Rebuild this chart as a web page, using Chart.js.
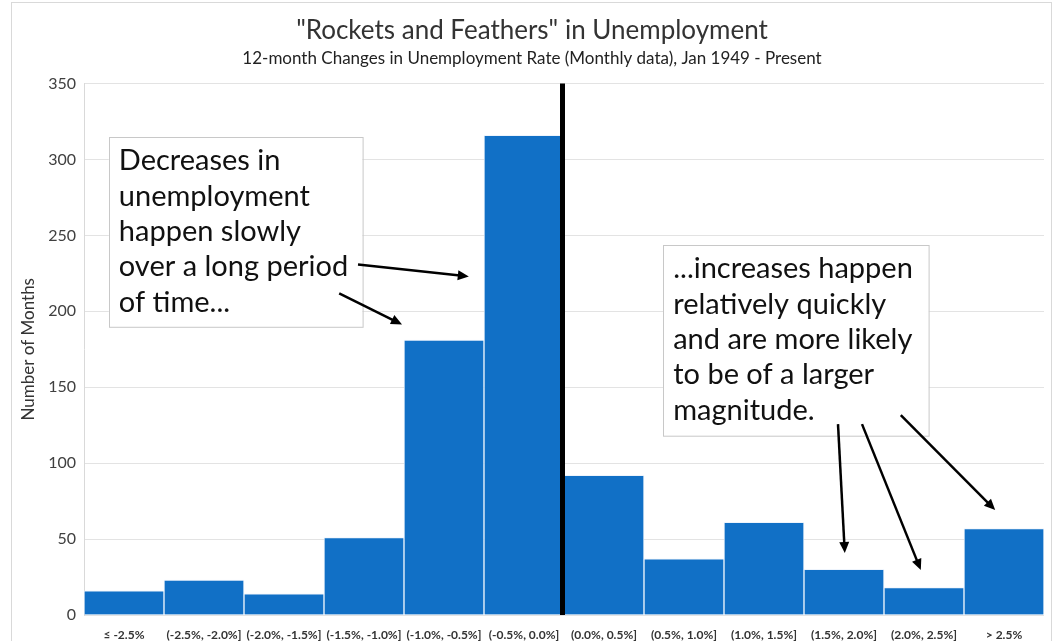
<!DOCTYPE html>
<html>
<head>
<meta charset="utf-8">
<script src="https://cdn.jsdelivr.net/npm/chart.js@4"></script>
<style>
  html, body { margin: 0; padding: 0; background: #fff; }
  #wrap { width: 1057px; height: 641px; position: relative; }
</style>
</head>
<body>
<div id="wrap"><canvas id="chart"></canvas></div>
<script>
// histogram bins of 12-month changes in the unemployment rate
const binLabels = ['≤ -2.5%', '(-2.5%, -2.0%]', '(-2.0%, -1.5%]', '(-1.5%, -1.0%]', '(-1.0%, -0.5%]',
  '(-0.5%, 0.0%]', '(0.0%, 0.5%]', '(0.5%, 1.0%]', '(1.0%, 1.5%]', '(1.5%, 2.0%]', '(2.0%, 2.5%]', '> 2.5%'];
const monthCounts = [16, 23, 14, 51, 181, 316, 92, 37, 61, 30, 18, 57];
const yTicks = [0, 50, 100, 150, 200, 250, 300, 350];

// annotation boxes and arrows, in data units (category index, count)
const noteBoxes = [
  { x0: -0.19, x1: 2.98, y0: 314.5, y1: 189.5,
    lines: ['Decreases in', 'unemployment', 'happen slowly', 'over a long period', 'of time...'] },
  { x0: 6.74, x1: 10.06, y0: 243.4, y1: 117.8,
    lines: ['...increases happen', 'relatively quickly', 'and are more likely', 'to be of a larger', 'magnitude.'] }
];
const noteArrows = [
  [2.925, 230.9, 4.31, 223],
  [2.69, 211.8, 3.475, 191.4],
  [8.925, 125.7, 9.01, 40.8],
  [9.225, 125.7, 9.96, 29.6],
  [9.71, 131.6, 10.89, 69.1]
];

const FONT = 'Lato, "Open Sans", sans-serif';

const extrasPlugin = {
  id: 'extras',
  beforeDraw(chart) {
    const ctx = chart.ctx;
    ctx.save();
    ctx.strokeStyle = '#d9d9d9';
    ctx.lineWidth = 1;
    ctx.strokeRect(11.5, 2.5, 1040, 700);
    ctx.restore();
  },
  afterDatasetsDraw(chart) {
    const ctx = chart.ctx;
    const xs = chart.scales.x, ys = chart.scales.y;
    ctx.save();

    // zero divider
    const zx = xs.getPixelForValue(5.5) - 1.5;
    ctx.strokeStyle = '#000';
    ctx.lineWidth = 5;
    ctx.beginPath();
    ctx.moveTo(zx, ys.getPixelForValue(350));
    ctx.lineTo(zx, ys.getPixelForValue(0));
    ctx.stroke();

    // text boxes
    for (const b of noteBoxes) {
      const l = xs.getPixelForValue(b.x0), r = xs.getPixelForValue(b.x1);
      const t = ys.getPixelForValue(b.y0), btm = ys.getPixelForValue(b.y1);
      ctx.fillStyle = '#fff';
      ctx.fillRect(l, t, r - l, btm - t);
      ctx.strokeStyle = '#c8c8c8';
      ctx.lineWidth = 1;
      ctx.strokeRect(Math.round(l) + 0.5, Math.round(t) + 0.5, r - l, btm - t);
      ctx.fillStyle = '#111';
      ctx.font = '29px ' + FONT;
      ctx.textAlign = 'left';
      ctx.textBaseline = 'alphabetic';
      b.lines.forEach((s, i) => ctx.fillText(s, l + 10, t + 33 + i * 35.3));
    }

    // arrows
    ctx.strokeStyle = '#000';
    ctx.fillStyle = '#000';
    ctx.lineWidth = 2.5;
    for (const a of noteArrows) {
      const x1 = xs.getPixelForValue(a[0]), y1 = ys.getPixelForValue(a[1]);
      const x2 = xs.getPixelForValue(a[2]), y2 = ys.getPixelForValue(a[3]);
      const ang = Math.atan2(y2 - y1, x2 - x1);
      const hl = 11, hw = 5;
      ctx.beginPath();
      ctx.moveTo(x1, y1);
      ctx.lineTo(x2 - Math.cos(ang) * hl * 0.8, y2 - Math.sin(ang) * hl * 0.8);
      ctx.stroke();
      ctx.beginPath();
      ctx.moveTo(x2, y2);
      ctx.lineTo(x2 - Math.cos(ang) * hl - Math.sin(ang) * hw, y2 - Math.sin(ang) * hl + Math.cos(ang) * hw);
      ctx.lineTo(x2 - Math.cos(ang) * hl + Math.sin(ang) * hw, y2 - Math.sin(ang) * hl - Math.cos(ang) * hw);
      ctx.closePath();
      ctx.fill();
    }
    ctx.restore();
  }
};

new Chart(document.getElementById('chart'), {
  type: 'bar',
  data: {
    labels: binLabels,
    datasets: [{
      data: monthCounts,
      backgroundColor: '#1170c6',
      borderColor: 'rgba(235,242,252,0.85)',
      borderWidth: 1,
      barPercentage: 1,
      categoryPercentage: 1
    }]
  },
  options: {
    responsive: true,
    maintainAspectRatio: false,
    animation: false,
    layout: { padding: { left: 20, right: 13, top: 0, bottom: 0 } },
    scales: {
      x: {
        grid: { display: false },
        border: { display: false },
        ticks: {
          color: '#333',
          maxRotation: 0,
          autoSkip: false,
          padding: 5,
          font: { family: FONT, size: 12, weight: 'bold' }
        },
        afterFit(scale) { scale.height = 26; }
      },
      y: {
        min: 0,
        max: 350,
        afterBuildTicks(scale) { scale.ticks = yTicks.map(v => ({ value: v })); },
        grid: { color: '#e3e3e3', drawTicks: false },
        border: { display: true, color: '#d9d9d9' },
        ticks: {
          color: '#404040',
          padding: 8,
          font: { family: FONT, size: 16 }
        },
        title: {
          display: true,
          text: 'Number of Months',
          color: '#333',
          padding: { top: -2, bottom: 0 },
          font: { family: FONT, size: 17 }
        },
        afterFit(scale) { scale.width = 64; }
      }
    },
    plugins: {
      legend: { display: false },
      tooltip: { enabled: false },
      title: {
        display: true,
        text: '"Rockets and Feathers" in Unemployment',
        color: '#333',
        padding: { top: 15, bottom: 0 },
        font: { family: FONT, size: 26, weight: 'normal' }
      },
      subtitle: {
        display: true,
        text: '12-month Changes in Unemployment Rate (Monthly data), Jan 1949 - Present',
        color: '#222',
        padding: { top: 2, bottom: 15 },
        font: { family: FONT, size: 17 }
      }
    }
  },
  plugins: [extrasPlugin]
});
</script>
</body>
</html>
